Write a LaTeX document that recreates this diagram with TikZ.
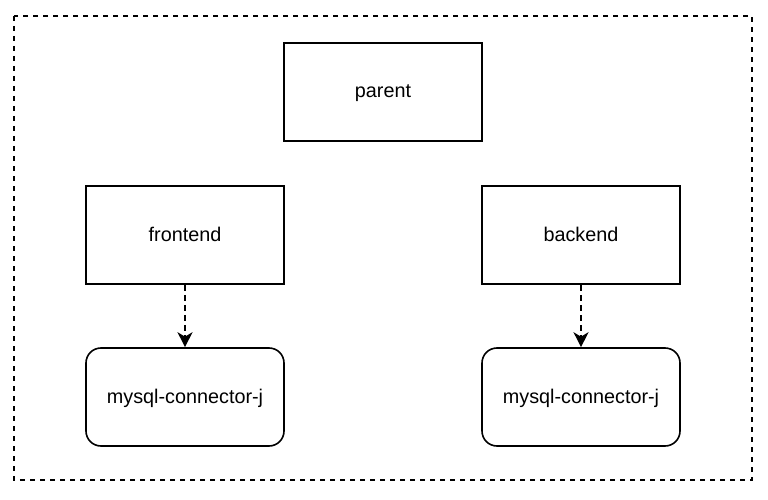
\documentclass[tikz,border=0pt]{standalone}
\usepackage{fontspec}
\setmainfont{Liberation Sans}
\usetikzlibrary{arrows.meta}
\begin{document}
\begin{tikzpicture}[x=1pt,y=-1pt,
  box/.style={draw=black,line width=1.6pt,minimum width=198pt,minimum height=98pt,inner sep=0pt,text height=14pt,text depth=2pt,font=\fontsize{19.8}{23}\selectfont},
  rbox/.style={box,rounded corners=15pt},
  dep/.style={draw=black,line width=1.6pt,dashed,dash pattern=on 6pt off 4pt,-{Stealth[length=15pt,width=15pt,inset=4.5pt]}}]
\useasboundingbox (0,0) rectangle (768,500);
\draw[line width=1.3pt,dash pattern=on 5pt off 5pt] (14,16) rectangle (752,480);
\node[box] (parent) at (383,92) {parent};
\node[box] (frontend) at (185,235) {frontend};
\node[box] (backend) at (581,235) {backend};
\node[rbox] (mysqlL) at (185,397) {mysql-connector-j};
\node[rbox] (mysqlR) at (581,397) {mysql-connector-j};
\draw[dep] (frontend) -- (mysqlL);
\draw[dep] (backend) -- (mysqlR);
\end{tikzpicture}
\end{document}
